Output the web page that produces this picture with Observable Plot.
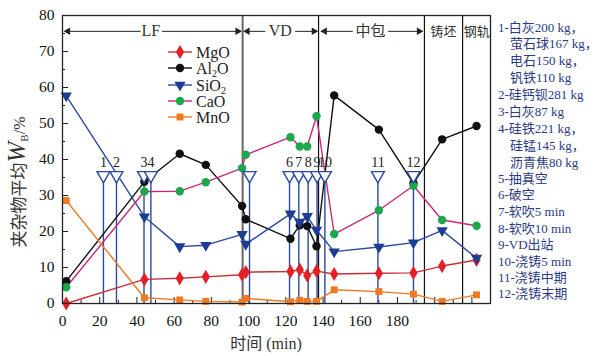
<!DOCTYPE html>
<html><head><meta charset="utf-8">
<script src="https://cdn.jsdelivr.net/npm/d3@7"></script>
<script src="https://cdn.jsdelivr.net/npm/@observablehq/plot@0.6"></script>
<style>
body{margin:0;background:#fff}
svg text{font-family:'Liberation Serif','Noto Sans CJK SC',serif;}
</style>
</head><body><div id="chart"></div>
<script>
// ---- data ----
const times = [2, 44, 63, 77, 96.5, 98.5, 122.5, 127.5, 131.5, 136.5, 146, 170, 188.6, 204, 222.5];
const MgO  = [0, 6.7, 7.0, 7.4, 8.0, 8.7, 8.9, 9.4, 7.8, 9.0, 8.2, 8.4, 8.5, 10.4, 12.1];
const Al2O = [6.2, 33.8, 41.6, 38.5, 27.1, 23.4, 18.0, 21.7, 21.5, 15.9, 57.8, 48.3, 33.4, 45.6, 49.3];
const SiO2 = [57.7, 24.1, 15.8, 16.2, 19.2, 16.5, 24.9, 22.6, 24.2, 20.4, 14.4, 15.7, 16.9, 20.3, 12.6];
const CaO  = [4.5, 31.1, 31.2, 33.7, 37.6, 41.3, 46.2, 43.6, 43.6, 52.0, 19.3, 25.9, 32.7, 23.2, 21.6];
const MnO  = [28.6, 1.6, 1.0, 0.6, 0.4, 1.4, 0.5, 0.9, 0.6, 0.6, 3.8, 3.3, 2.6, 0.6, 2.4];

const seriesNames = ["MgO", "Al2O", "SiO2", "CaO", "MnO"];
const seriesValues = [MgO, Al2O, SiO2, CaO, MnO];

const eventTimes  = [22, 29, 43.8, 47.5, 100.5, 122, 127, 132, 136.8, 141, 169.5, 188.6];
const eventLabels = ["1", "2", "3", "4", "", "6", "7", "8", "9", "10", "11", "12"];
const eventLevel = 35.6;

const boundaries = [96.8, 137.6, 194.5, 215];
const stageNames = ["LF", "VD", "中包", "铸坯", "钢轨"];
const stageCenters = [47.5, 117, 165.5, 204.8, 222.6];
const stageArrowSpans = [[1.5, 42, 53.5, 95.5], [98, 109, 125, 136.5], [139.5, 156, 175, 193]];
const stageLevel = 75.6;

const xTicks = [0, 20, 40, 60, 80, 100, 120, 140, 160, 180];
const xMajor = [0, 20, 40, 60, 80, 100, 120, 140, 160, 180, 200, 220];
const xMinor = [10, 30, 50, 70, 90, 110, 130, 150, 170, 190, 210, 230];
const yTicks = [0, 10, 20, 30, 40, 50, 60, 70, 80];
const yMinor = [5, 15, 25, 35, 45, 55, 65, 75];

const xLabel = "时间 (min)";
const notes = [
  ["1-白灰200 kg，", 0], ["萤石球167 kg，", 1], ["电石150 kg，", 1], ["钒铁110 kg", 1],
  ["2-硅钙钡281 kg", 0], ["3-白灰87 kg", 0],
  ["4-硅铁221 kg，", 0], ["硅锰145 kg，", 1], ["沥青焦80 kg", 1],
  ["5-抽真空", 0], ["6-破空", 0], ["7-软吹5 min", 0], ["8-软吹10 min", 0],
  ["9-VD出站", 0], ["10-浇铸5 min", 0], ["11-浇铸中期", 0], ["12-浇铸末期", 0]
];

// ---- styles ----
const W = 600, H = 356, mL = 62, mR = 110, mT = 15, mB = 53;
const xMax = 230, yMax = 80;
const ux = xMax / (W - mL - mR), uy = yMax / (H - mT - mB); // data units per px
const styles = {
  MgO:  {fill: "#e41f26", line: "#c7303a", symbol: "diamond", r: 4.3, rot: 0},
  Al2O: {fill: "#111111", line: "#111111", symbol: "circle", r: 4.2, rot: 0},
  SiO2: {fill: "#1d3c94", line: "#2b4a9e", symbol: "triangle", r: 4.2, rot: 180},
  CaO:  {fill: "#1aa84b", line: "#c8287c", symbol: "circle", r: 4.2, rot: 0},
  MnO:  {fill: "#f07a22", line: "#f07a22", symbol: "square", r: 3.9, rot: 0}
};
const blue = "#2a4aa0";
const serif = "'Liberation Serif','Noto Sans CJK SC',serif";

const events = eventTimes.map((t, i) => ({t, label: eventLabels[i]}));
const seriesMarks = [];
seriesNames.forEach((name, k) => {
  const st = styles[name];
  const rows = times.map((t, i) => ({t, v: seriesValues[k][i]}));
  seriesMarks.push(Plot.line(rows, {x: "t", y: "v", stroke: st.line, strokeWidth: 1.4}));
});
seriesNames.forEach((name, k) => {
  const st = styles[name];
  const rows = times.map((t, i) => ({t, v: seriesValues[k][i]}));
  seriesMarks.push(Plot.dot(rows, {x: "t", y: "v", symbol: st.symbol, fill: st.fill, stroke: "none", r: st.r, rotate: st.rot}));
});

const arrowSegs = [], arrowHeads = [];
stageArrowSpans.forEach(([a, b, c, d]) => {
  arrowSegs.push({x1: b, x2: a}, {x1: c, x2: d});
  arrowHeads.push({x: a + 1.4, rot: -90}, {x: d - 1.4, rot: 90});
});

const chart = Plot.plot({
  width: W, height: H,
  marginLeft: mL, marginRight: mR, marginTop: mT, marginBottom: mB,
  style: {fontFamily: serif, fontSize: "15.5px", color: "#111", background: "#fff"},
  x: {domain: [0, xMax], ticks: xTicks, tickSize: 0, tickPadding: 11, label: null},
  y: {domain: [0, yMax], ticks: yTicks, tickSize: 0, tickPadding: 8, label: null},
  marks: [
    // inward ticks
    Plot.ruleY(yTicks, {y: d => d, x1: 0, x2: 6 * ux, stroke: "#222"}),
    Plot.ruleY(yMinor, {y: d => d, x1: 0, x2: 3 * ux, stroke: "#222"}),
    Plot.ruleX(xMajor, {x: d => d, y1: 0, y2: 6 * uy, stroke: "#222"}),
    Plot.ruleX(xMinor, {x: d => d, y1: 0, y2: 3 * uy, stroke: "#222"}),
    // stage boundaries
    Plot.ruleX(boundaries, {x: d => d, stroke: (d, i) => i === 0 ? "#666" : "#111", strokeWidth: (d, i) => i === 0 ? 2 : 1.2}),
    // event lines
    Plot.ruleX(events, {x: "t", y1: 0, y2: eventLevel, stroke: blue, strokeWidth: 1.4}),
    ...seriesMarks,
    Plot.dot(events, {x: "t", y: eventLevel, symbol: "triangle", rotate: 180, r: 4.8, fill: "white", stroke: blue, strokeWidth: 1.4}),
    Plot.text(events, {x: "t", y: eventLevel, text: "label", dy: -13, fontSize: 14, fill: "#222"}),
    // stage annotations
    Plot.link(arrowSegs, {x1: "x1", x2: "x2", y1: stageLevel, y2: stageLevel, stroke: "#222", strokeWidth: 1}),
    Plot.dot(arrowHeads, {x: "x", y: stageLevel, symbol: "triangle", rotate: "rot", r: 2.8, fill: "#222"}),
    Plot.text(stageNames, {x: (d, i) => stageCenters[i], y: stageLevel, text: d => d,
      fontSize: (d, i) => i < 2 ? 16 : (i < 3 ? 15 : 13), fill: "#333"}),
    Plot.frame({stroke: "#222", strokeWidth: 1.3})
  ]
});

document.getElementById("chart").appendChild(chart);
const svg = d3.select(chart);

// legend
const legendRows = [52, 68, 85, 101, 117];
const legendLabels = [["MgO"], ["Al", "2", "O"], ["SiO", "2"], ["CaO"], ["MnO"]];
const symMap = {circle: d3.symbolCircle, diamond: d3.symbolDiamond, triangle: d3.symbolTriangle, square: d3.symbolSquare};
const lg = svg.append("g").attr("font-size", 16).attr("fill", "#222").attr("text-anchor", "start");
seriesNames.forEach((name, i) => {
  const st = styles[name], y = legendRows[i];
  lg.append("line").attr("x1", 168).attr("x2", 192).attr("y1", y).attr("y2", y).attr("stroke", st.line).attr("stroke-width", 1.4);
  lg.append("path").attr("d", d3.symbol(symMap[st.symbol], Math.PI * st.r * st.r)())
    .attr("transform", `translate(180,${y}) rotate(${st.rot})`).attr("fill", st.fill);
  const t = lg.append("text").attr("x", 196).attr("y", y + 5.5).attr("text-anchor", "start");
  legendLabels[i].forEach((p, j) => {
    const sp = t.append("tspan").text(p);
    if (j === 1) sp.attr("font-size", 10).attr("dy", 3);
    if (j === 2) sp.attr("dy", -3);
  });
});

// x label
svg.append("text").attr("x", 266).attr("y", 349).attr("text-anchor", "middle")
  .attr("font-size", 16).attr("fill", "#333").text(xLabel);

// y label
const yl = svg.append("text").attr("transform", "translate(25,182) rotate(-90)")
  .attr("text-anchor", "middle").attr("fill", "#333");
yl.append("tspan").text("夹杂物平均").attr("font-size", 17);
yl.append("tspan").text("W").attr("font-size", 25).attr("font-style", "italic");
yl.append("tspan").text("B").attr("font-size", 11).attr("dy", 3);
yl.append("tspan").text("/%").attr("font-size", 16).attr("dy", -3);

// notes
const ng = svg.append("g").attr("font-size", 13).attr("fill", "#2b3a84").attr("text-anchor", "start");
const noteY = [27, 43, 60, 77, 94, 111, 128, 145, 162, 178, 194, 211, 228, 244, 261, 277, 293];
notes.forEach(([s, ind], i) => {
  ng.append("text").attr("x", ind ? 510 : 498).attr("y", noteY[i] + 5).attr("text-anchor", "start").text(s);
});
</script></body></html>
